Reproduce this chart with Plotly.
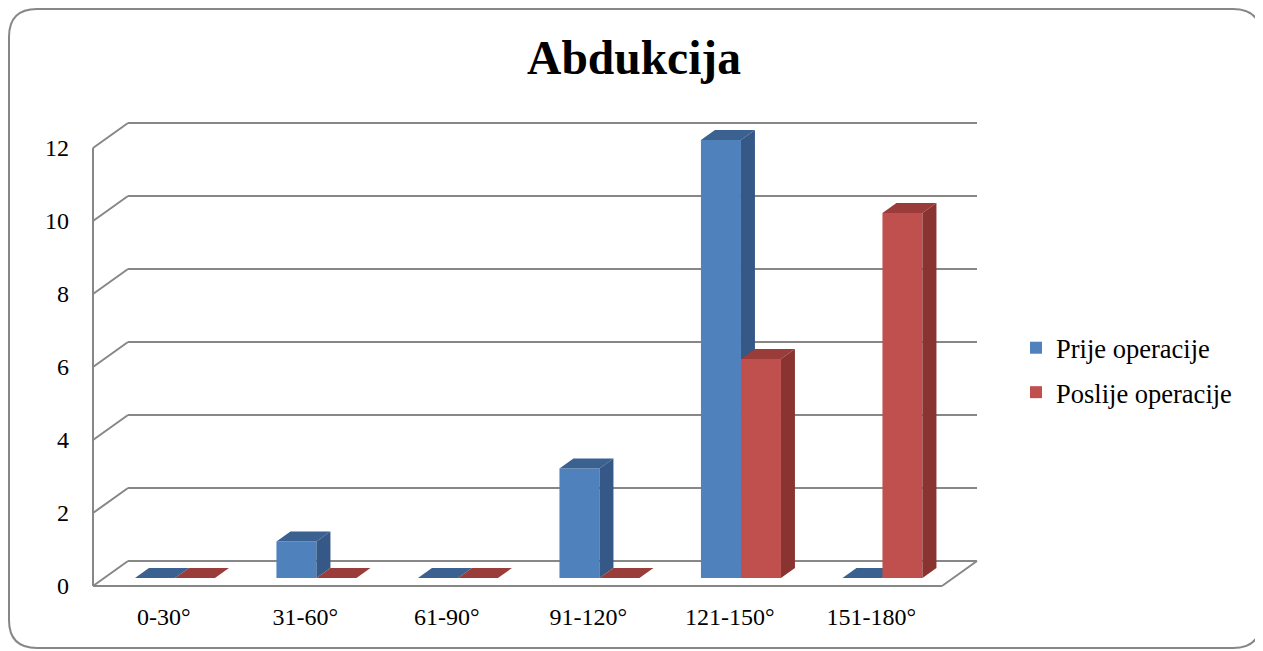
import plotly.graph_objects as go

# ---- data ----
categories = ["0-30°", "31-60°", "61-90°", "91-120°", "121-150°", "151-180°"]
prije = [0, 1, 0, 3, 12, 0]
poslije = [0, 0, 0, 0, 6, 10]
series_names = ["Prije operacije", "Poslije operacije"]
y_ticks = [0, 2, 4, 6, 8, 10, 12]

# ---- geometry (screen px of reference; page body adds an 8px offset) ----
OFF = 8
W, H = 1263 - OFF, 651 - OFF
SL, SR, ST, SB = 70, 1000, 100, 600          # plot area in screen px
ML, MT = SL - OFF, ST - OFF
MR, MB = W - (SR - OFF), H - (SB - OFF)
PW, PH = SR - SL, SB - ST
UX, UY = 141.5, 36.5            # px per unit
XMIN = -0.5 - (93 - SL) / UX
YMIN = -(SB - 586) / UY
XMAX = XMIN + PW / UX
YMAX = YMIN + PH / UY
DX, DY = 35 / UX, 25 / UY       # wall depth
F0 = 0.32                       # bar front depth fraction
BD = 0.40                       # bar depth fraction
BW = 40 / UX                    # bar width
bx0, by0 = F0 * DX, F0 * DY
bdx, bdy = BD * DX, BD * DY

FONT = "'Liberation Serif', 'Times New Roman', Times, serif"
GRID = "#878787"
colors = {
    "front": ["#4F81BD", "#C0504D"],
    "side": ["#355886", "#8A3431"],
    "top": ["#3B6191", "#9A3C39"],
}

fig = go.Figure()

axes = [("x", "y"), ("x2", "y2")]
vals = [prije, poslije]
offsets = [-BW, 0.0]

for s in range(2):
    xa, ya = axes[s]
    xs = [i + bx0 for i in range(len(categories))]
    fig.add_trace(go.Bar(
        x=xs, y=vals[s], base=by0, offset=offsets[s], width=BW,
        name=series_names[s], marker=dict(color=colors["front"][s], line=dict(width=0)),
        xaxis=xa, yaxis=ya, legendgroup=series_names[s], hoverinfo="skip",
    ))
    for i, v in enumerate(vals[s]):
        x0 = xs[i] + offsets[s]
        x1 = x0 + BW
        yt = by0 + v
        fig.add_trace(go.Scatter(
            x=[x0, x1, x1 + bdx, x0 + bdx, x0],
            y=[yt, yt, yt + bdy, yt + bdy, yt],
            fill="toself", fillcolor=colors["top"][s], mode="lines",
            line=dict(width=0, color=colors["top"][s]), showlegend=False,
            xaxis=xa, yaxis=ya, hoverinfo="skip",
        ))
        if v > 0:
            fig.add_trace(go.Scatter(
                x=[x1, x1 + bdx, x1 + bdx, x1, x1],
                y=[by0, by0 + bdy, yt + bdy, yt, by0],
                fill="toself", fillcolor=colors["side"][s], mode="lines",
                line=dict(width=0, color=colors["side"][s]), showlegend=False,
                xaxis=xa, yaxis=ya, hoverinfo="skip",
            ))

shapes = []
n = len(categories)
xl, xr = -0.5, n - 0.5
for v in y_ticks:
    shapes.append(dict(type="line", xref="x", yref="y", layer="below",
                       x0=xl, y0=v, x1=xl + DX, y1=v + DY,
                       line=dict(color=GRID, width=2)))
    shapes.append(dict(type="line", xref="x", yref="y", layer="below",
                       x0=xl + DX, y0=v + DY, x1=xr + DX, y1=v + DY,
                       line=dict(color=GRID, width=2)))
shapes.append(dict(type="line", xref="x", yref="y", layer="below",
                   x0=xl, y0=0, x1=xl, y1=y_ticks[-1], line=dict(color=GRID, width=2)))
shapes.append(dict(type="line", xref="x", yref="y", layer="below",
                   x0=xl, y0=0, x1=xr, y1=0, line=dict(color=GRID, width=2)))
shapes.append(dict(type="line", xref="x", yref="y", layer="below",
                   x0=xr, y0=0, x1=xr + DX, y1=DY, line=dict(color=GRID, width=2)))

# rounded outer border (paper coords from screen px)
def px(p):
    return (p - SL) / PW
def py(p):
    return (SB - p) / PH
L, T, R, B, r = 9, 9, 1261, 648, 28
pts = (f"M {px(L + r)},{py(T)} L {px(R - r)},{py(T)} Q {px(R)},{py(T)} {px(R)},{py(T + r)} "
       f"L {px(R)},{py(B - r)} Q {px(R)},{py(B)} {px(R - r)},{py(B)} "
       f"L {px(L + r)},{py(B)} Q {px(L)},{py(B)} {px(L)},{py(B - r)} "
       f"L {px(L)},{py(T + r)} Q {px(L)},{py(T)} {px(L + r)},{py(T)} Z")
shapes.append(dict(type="path", xref="paper", yref="paper", path=pts,
                   line=dict(color="#878787", width=2), layer="below"))

fig.update_layout(
    width=W, height=H,
    margin=dict(l=ML, r=MR, t=MT, b=MB),
    paper_bgcolor="white", plot_bgcolor="rgba(0,0,0,0)",
    font=dict(family=FONT, size=24, color="black"),
    title=dict(text="<b>Abdukcija</b>", x=(634 - OFF) / W, xref="container",
               xanchor="center", y=1 - (57 - OFF) / H, yanchor="middle",
               font=dict(family=FONT, size=47.5, color="black")),
    barmode="overlay",
    showlegend=True,
    legend=dict(x=px(1016), xanchor="left", y=py(370), yanchor="middle",
                font=dict(family=FONT, size=26.5, color="black"),
                traceorder="grouped", tracegroupgap=7,
                bgcolor="rgba(0,0,0,0)"),
    xaxis=dict(range=[XMIN, XMAX], tickvals=list(range(n)), ticktext=categories,
               showgrid=False, zeroline=False, showline=False, ticks="",
               fixedrange=True),
    yaxis=dict(range=[YMIN, YMAX], tickvals=y_ticks, ticktext=[str(t) for t in y_ticks],
               showgrid=False, zeroline=False, showline=False, ticks="",
               fixedrange=True),
    xaxis2=dict(range=[XMIN, XMAX], overlaying="x", visible=False, fixedrange=True),
    yaxis2=dict(range=[YMIN, YMAX], overlaying="y", visible=False, fixedrange=True),
    shapes=shapes,
)

fig.write_html("out.html")
